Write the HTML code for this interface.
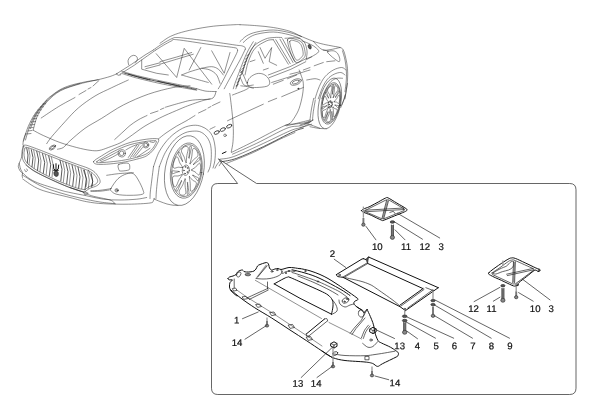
<!DOCTYPE html>
<html lang="en">
<head>
<meta charset="utf-8">
<title>Underbody guards - parts diagram</title>
<style>
html,body{margin:0;padding:0;background:#fff;}
body{width:600px;height:413px;overflow:hidden;}
svg{display:block;will-change:transform;}
.l{fill:none;stroke:#222;stroke-width:.7;stroke-linecap:round;stroke-linejoin:round;}
.c{fill:none;stroke:#222;stroke-width:.5;stroke-linecap:round;stroke-linejoin:round;}
.k{fill:none;stroke:#111;stroke-width:1;stroke-linecap:round;stroke-linejoin:round;}
.d{fill:none;stroke:#222;stroke-width:.75;stroke-linecap:round;stroke-linejoin:round;}
.x{fill:#555;stroke:#222;stroke-width:.6;}
.g{fill:#888;stroke:#222;stroke-width:.6;}
.s{fill:none;stroke:#777;stroke-width:1.9;}
.s2{fill:none;stroke:#999;stroke-width:1.3;}
.b{fill:none;stroke:#4a4a4a;stroke-width:.85;stroke-linejoin:round;}
.t text{font-family:"Liberation Sans",Arial,sans-serif;font-size:9.6px;fill:#111;stroke:#111;stroke-width:.22;text-anchor:middle;text-rendering:geometricPrecision;}
.f{fill:#fff !important;}
</style>
</head>
<body>
<svg width="600" height="413" viewBox="0 0 600 413">
<rect width="600" height="413" fill="#fff"/>
<!-- 10_box.svg -->
<g class="b">
<path d="M218.4 158.8 L237.6 183.5 H217.8 Q211.5 183.5 211.5 189.8 V388.2 Q211.5 394.5 217.8 394.5 H569.7 Q576 394.5 576 388.2 V189.8 Q576 183.5 569.7 183.5 H256.6 Z"/>
</g>
<!-- 19_car_hoodlines.svg -->
<path class="c" d="M23.5 141C23.6 140.8 23.2 141.8 24 139.5C24.8 137.2 26.1 131.4 28 127C29.9 122.6 32.4 117.5 35.5 113C38.6 108.5 44.1 102.7 46.5 100C48.9 97.3 47.8 98.5 50 96.8C52.2 95.1 56.7 91.6 60 89.7C63.3 87.8 66.7 86.6 70 85.5C73.3 84.4 76.7 83.8 80 83C83.3 82.2 87 81.5 90 81C93 80.5 94.7 80.5 98 79.7C101.3 79 106.8 77.5 110 76.5C113.2 75.5 115.8 74.2 117 73.7"/>
<path class="c" d="M33.2 130C34 127.5 35.5 119.6 37.9 114.8C40.3 110 43.8 105.2 47.6 101.2C51.4 97.2 55.2 93.6 60.6 90.7C66 87.8 74 85.6 80.2 83.8C86.4 82 95 80.4 98 79.7"/>
<path class="c" d="M30.5 128.5C31.5 126.1 34 118.7 36.7 114C39.5 109.3 43.1 104.6 47 100.6C50.9 96.6 54.8 93.1 60.3 90.2C65.8 87.3 76.7 84.5 80 83.4"/>
<path class="c" d="M25.5 140C26.1 138 27.5 132.2 29.3 127.8C31.1 123.4 33.2 118.1 36.1 113.5C39 108.9 45 102.5 46.8 100.3"/>
<path class="c" d="M26.5 134L31 133.5"/>
<path class="c" d="M27.5 131L32 130.5"/>
<path class="c" d="M28.5 128L33.3 127.5"/>
<path class="c" d="M29.8 125L34.3 124.5"/>
<path class="c" d="M31 122L35.5 121.5"/>
<path class="c" d="M32.5 119L36.5 118.5"/>
<path class="c" d="M34 116L38 115.7"/>
<path class="c" d="M36 113L39.5 112.8"/>
<path class="c" d="M38 110L41.3 109.8"/>
<path class="c" d="M40.5 107L43.5 106.8"/>
<path class="c" d="M43 104L45.7 103.8"/>
<path class="c" d="M41.2 118C44.1 116.1 53.1 109.9 58.7 106.5C64.3 103.1 72.3 99 75 97.5"/>
<path class="c" d="M79 94.5L86 90.5"/>
<path class="c" d="M88 89L91 87.5"/>
<path class="c" d="M93 86L99 80.5"/>
<path class="c" d="M46.7 143.7C47.5 142.5 48.7 140.4 51.7 136.7C54.8 133 60.6 126.5 65 121.7C69.4 116.9 73.3 112.3 78.3 108C83.3 103.7 89.4 99.4 95 96C100.6 92.6 106.2 90.4 111.7 87.7C117.2 85 125.5 81.3 128.3 80"/>
<path class="c" d="M57.5 149.2C58.5 148.9 61.2 148.9 63.3 147.5C65.4 146.1 66.4 144 70 140.8C73.6 137.6 79.7 132.1 85 128.3C90.3 124.6 95.3 122.2 101.7 118.3C108.1 114.4 115.5 109 123.3 105C131.1 101 140 97.1 148.3 94.2C156.6 91.3 166.4 88.9 173.3 87.5C180.2 86.1 187.2 86.1 190 85.8"/>
<path class="c" d="M33.3 130.3C35 131.2 38.8 133.5 43.3 135.5C47.8 137.5 54.4 140.5 60 142.5C65.6 144.5 71.7 146.2 76.7 147.5C81.7 148.8 86.3 149.8 90 150.3C93.7 150.8 96 151 99 150.5C102 150 104.8 148.8 108.3 147.5C111.8 146.2 116.7 144.6 120 143C123.3 141.4 125.2 139.9 128 138C130.8 136.1 134.2 133.5 137 131.5C139.8 129.5 142 127.8 145 126C148 124.2 151.7 122.2 155 120.5C158.3 118.8 160.8 117.4 165 115.5C169.2 113.6 175.8 110.8 180 109C184.2 107.2 186.7 106.2 190 105C193.3 103.8 197.5 102.3 200 101.5C202.5 100.7 203.3 100.4 205 100C206.7 99.6 208.7 99.3 210 99C211.3 98.7 212.2 98.7 213 98C213.8 97.3 214.5 96.1 215 95C215.5 93.9 215.8 92.1 216 91.5"/>
<path class="c" d="M196.7 88.7C198.1 89.1 202.3 90.5 205 91C207.7 91.5 211.2 91.4 213 91.5C214.8 91.6 215.5 91.5 216 91.5"/>
<path class="c" d="M114.7 139.5C116.2 138.1 121.5 133.3 124 131C126.5 128.7 127.7 127.3 130 125.5C132.3 123.7 135.2 121.7 138 120C140.8 118.3 145.5 116.2 147 115.5"/>
<path class="c" d="M150.5 113.5L158 111"/>
<path class="c" d="M160.5 109.5L164 108"/>
<path class="c" d="M165.5 107.2C167.9 106.5 175.9 104.1 180 103C184.1 101.9 186.7 101.1 190 100.5C193.3 99.9 197.5 99.7 200 99.5C202.5 99.3 203.3 99.6 205 99.5C206.7 99.4 209.2 99.1 210 99"/>
<path class="c" d="M158.3 139C159.6 138 163 135.1 166 133C169 130.9 173 128.3 176.3 126.3C179.6 124.3 182.9 122.8 186 121C189.1 119.2 193.5 116.4 195 115.5"/>
<path class="c" d="M198.5 113L206 109.5"/>
<path class="c" d="M208 108L211 106.5"/>
<path class="c" d="M212.5 105.5L220 102"/>
<!-- 20_car_front.svg -->
<path class="c" d="M25.8 133.3C25.5 134.3 24.1 137.2 23.7 139.2C23.2 141.1 22.9 143.8 23 145C23.1 146.2 24 146.1 24.2 146.3"/>
<ellipse class="c" cx="52.5" cy="147.5" rx="3.7" ry="1.8" transform="rotate(-32 52.5 147.5)"/>
<ellipse class="c" cx="52.5" cy="147.5" rx="2.3" ry="1" transform="rotate(-32 52.5 147.5)"/>
<path class="c" d="M23.3 146.3C23.9 146.2 23.3 144.5 26.7 145.3C30 146.2 37.8 149.2 43.3 151.3C48.9 153.4 54.4 155.9 60 158C65.6 160.1 71.9 162.4 76.7 164.2C81.4 165.9 85.3 166.9 88.3 168.3C91.4 169.7 93.2 170.8 95 172.5C96.8 174.2 98.3 176.7 99.2 178.3C100 180 100.4 181.2 100 182.5C99.6 183.8 98.3 184.9 96.7 185.8C95 186.8 91.9 187.4 90 188.3C88.1 189.3 85.8 191.1 85 191.7"/>
<path class="c" d="M23.3 146.3C23.1 147.2 22.1 149.7 22 151.7C21.9 153.7 22 156.4 22.5 158.3C23 160.3 23.5 161.5 25 163.3C26.5 165.1 28.6 167.1 31.7 169.2C34.7 171.2 38.6 173.4 43.3 175.8C48.1 178.2 54.4 181.3 60 183.7C65.6 186 72.5 188.6 76.7 190C80.8 191.4 83.6 191.7 85 192"/>
<path class="c" d="M25 148.3C25.4 148.2 24.4 146.7 27.5 147.5C30.6 148.3 37.9 151.2 43.3 153.3C48.8 155.4 54.4 157.9 60 160C65.6 162.1 72.1 164.4 76.7 166.2C81.2 167.9 84.7 169.1 87.5 170.3C90.3 171.6 91.8 172.4 93.3 173.8C94.9 175.2 96.3 177.3 97 178.7C97.7 180 97.9 181 97.5 182C97.1 183 96.1 183.9 94.7 184.7C93.3 185.4 90.8 185.8 89.2 186.7C87.6 187.5 85.7 189.2 85 189.7"/>
<path class="c" d="M25 148.3C24.8 149 24.1 150.9 24 152.5C23.9 154.1 24.1 156.3 24.5 158C24.9 159.7 25.3 160.9 26.7 162.5C28 164.1 29.7 165.6 32.5 167.5C35.3 169.4 38.8 171.5 43.3 173.8C47.9 176.2 54.4 179.3 60 181.7C65.6 184 72.5 186.7 76.7 188C80.8 189.3 83.6 189.4 85 189.7"/>
<path class="d" d="M26.7 148L28 155L27.3 163"/>
<path class="c" d="M28.7 148.3L30 155.8L29 164.7"/>
<path class="d" d="M31.3 149.7L33 157.5L32 166.7"/>
<path class="c" d="M33.7 150.3L35.3 158.3L34.2 168.3"/>
<path class="d" d="M36.7 151.3L38.7 160L37.5 170.3"/>
<path class="c" d="M39.2 152.3L41 160.8L40 171.7"/>
<path class="d" d="M42.5 153.7L44.7 162.5L43.3 173.3"/>
<path class="c" d="M45.3 154.7L47.3 163.3L46.2 174.5"/>
<path class="d" d="M48.7 156L50.7 164.7L49.3 175.8"/>
<path class="c" d="M51.3 157L53.3 165.3L52 177"/>
<path class="d" d="M60 160.3L62 169.2L60.8 181"/>
<path class="c" d="M62.7 161.3L64.7 170.3L63.3 182.3"/>
<path class="d" d="M65.8 162.5L68 171.7L66.7 183.7"/>
<path class="c" d="M68.7 163.7L70.7 172.7L69.3 184.7"/>
<path class="d" d="M72 165L74 174.2L72.7 186"/>
<path class="c" d="M75 166.2L77 175.3L75.7 187"/>
<path class="d" d="M78 167.3L80 176.7L78.7 188"/>
<path class="c" d="M81 168.7L83 177.7L81.7 188.7"/>
<path class="d" d="M84.3 170L86.3 179L85 189.3"/>
<path class="c" d="M87.7 171.7L89.3 180L88.3 188.3"/>
<path class="d" d="M91.3 173.7L92.7 181.3L91.7 187"/>
<path class="k" d="M53.3 164.7L53.8 168.7L55 170"/>
<path class="k" d="M58.7 165L58.2 169L57 170"/>
<path class="k" d="M56 163.7L56 173.3"/>
<path class="k" d="M53.7 170.3L58.3 170.3"/>
<path class="x" d="M54.3 171.7C54.9 171.3 57 171.2 57.7 171.7C58.3 172.1 58.4 173.4 58.3 174.2C58.3 174.9 57.9 176 57.3 176.3C56.8 176.6 55.6 176.4 55 176C54.4 175.6 54.1 174.7 54 174C53.9 173.3 53.7 172.1 54.3 171.7Z"/>
<path class="c" d="M23.3 146.7C23.1 148.3 22.4 153.9 21.7 156.7C21 159.4 19.7 161.7 19.2 163.3C18.6 165 18.2 165.4 18.3 166.7C18.5 167.9 19.3 169.7 20 170.8C20.7 171.9 22.1 172.9 22.5 173.3"/>
<path class="c" d="M22.5 173.3C22.4 173.8 22.2 175.1 22.2 175.8C22.2 176.5 22.4 177.2 22.5 177.5"/>
<path class="c" d="M25.8 165C27.4 166.1 30.7 169.2 35 171.7C39.3 174.1 46.1 177.1 51.7 179.7C57.2 182.2 63.1 184.9 68.3 187C73.6 189.1 80.8 191.2 83.3 192"/>
<path class="c" d="M83.3 192L85 195L88.3 193.3L85 191.7"/>
<path class="c" d="M24.7 169.7C24.9 170 25.4 171.6 25.8 171.7C26.3 171.8 27.4 170.8 27.5 170.3C27.6 169.8 26.5 168.9 26.3 168.7"/>
<path class="c" d="M19.2 163.3C19.8 164.8 19.9 169.4 22.5 172.5C25.1 175.6 28.8 178.8 35 181.7C41.2 184.6 54.2 188.2 60 190C65.8 191.8 65.5 191.5 70 192.5C74.5 193.5 81.2 194.7 86.7 195.8C92.2 196.9 97.8 198.5 103.3 199.2C108.8 199.9 114.4 200 120 200C125.6 200 132.2 199.6 136.7 199.2C141.1 198.8 145 197.8 146.7 197.5"/>
<path class="c" d="M22.7 179C25.6 180.8 32.1 186.4 40 189.5C47.9 192.6 62.2 195.5 70 197.5C77.8 199.5 81.2 200.7 86.7 201.7C92.2 202.7 96.4 203.3 103.3 203.7C110.2 204.1 120.5 204.3 128.3 204.2C136.1 204.1 145.8 203.6 150 203C154.2 202.4 152.6 201.6 153.3 200.8C154 200 154 198.7 154.2 198.3"/>
<path class="c" d="M22.5 175C25.4 176.8 33.8 182.5 40 185.5C46.2 188.5 53.3 190.7 60 192.8C66.7 194.9 73.3 196.5 80 198C86.7 199.5 94.2 201.1 100 202C105.8 202.9 112.5 203.4 115 203.7"/>
<path class="c" d="M70 187.5C71.7 188.1 76.4 189.4 80 190.8C83.6 192.2 86.7 194.3 91.7 195.8C96.7 197.3 106.1 198.7 110 200C113.9 201.3 114.2 203.1 115 203.7"/>
<path class="c" d="M154 199C155 199.4 157.8 200.7 160 201.5C162.2 202.3 164.8 203.4 167 204C169.2 204.6 171.2 204.9 173 205.2C174.8 205.4 177.2 205.4 178 205.5"/>
<path class="c" d="M91 191.3C92.5 191.3 97 191.4 100 191.2C103 191 107.7 190.2 109.2 190"/>
<!-- 21_car_headlight.svg -->
<path class="c" d="M93.7 161.3C94.5 159.9 98.4 157.9 101.7 155.8C104.9 153.8 108.6 151.4 113.3 149.2C118.1 146.9 124.4 144.2 130 142.5C135.6 140.8 142.2 139.8 146.7 139.2C151.1 138.5 154.7 138.5 156.7 138.7C158.7 138.8 158.5 139.2 158.7 140C158.8 140.8 158.4 141.7 157.5 143.3C156.6 145 155.1 147.9 153.3 150C151.5 152.1 149.4 154.3 146.7 155.8C143.9 157.4 140.8 158.1 136.7 159.2C132.5 160.3 126.7 161.7 121.7 162.5C116.7 163.3 110.8 163.9 106.7 164.2C102.5 164.4 98.8 164.6 96.7 164.2C94.5 163.7 92.8 162.7 93.7 161.3Z"/>
<path class="c" d="M96.7 161.7C97.4 160.8 100.4 159.2 103.3 157.5C106.2 155.8 109.7 153.3 114.2 151.2C118.6 149 124.6 146.3 130 144.7C135.4 143 142.5 142 146.7 141.3C150.8 140.7 153.4 140.6 155 140.7C156.6 140.7 156.3 141.1 156.3 141.7C156.4 142.2 156.1 142.8 155.3 144.2C154.6 145.5 153.3 148 151.7 149.7C150.1 151.3 148.5 152.9 145.8 154.2C143.2 155.5 139.9 156.4 135.8 157.5C131.8 158.6 126.5 159.7 121.7 160.5C116.8 161.3 110.5 161.8 106.7 162.2C102.8 162.5 100.3 162.8 98.7 162.7C97 162.6 95.9 162.5 96.7 161.7Z"/>
<path class="c" d="M100 160.8C101.4 160.1 105.3 158.2 108.3 156.7C111.4 155.1 116.7 152.2 118.3 151.3"/>
<path class="c" d="M100.8 162C102.4 161.4 106.9 159.8 110 158.3C113.1 156.9 117.6 154.2 119.2 153.3"/>
<ellipse class="c" cx="121.7" cy="153.3" rx="3.7" ry="3.7"/>
<ellipse class="c" cx="121.7" cy="153.3" rx="2.3" ry="2.3"/>
<ellipse class="c" cx="145.8" cy="145" rx="3" ry="3"/>
<ellipse class="c" cx="145.8" cy="145" rx="1.8" ry="1.8"/>
<path class="c" d="M128.3 157.5L136.7 145.3"/>
<path class="c" d="M130.5 157.5L138.8 145.3"/>
<path class="c" d="M133 156.7L141.3 145.8"/>
<path class="c" d="M137.5 156.7L150 148.3"/>
<path class="c" d="M135 156.7L142.5 147.5"/>
<path class="c" d="M125.8 150C126.8 149.4 129.6 147.6 131.7 146.7C133.8 145.7 136.5 144.7 138.3 144.2C140.1 143.6 141.8 143.5 142.5 143.3"/>
<path class="c" d="M150 141.7C150.6 141.8 152.5 142.6 153.3 142.5C154.2 142.4 154.7 141.5 155 141.3"/>
<path class="c" d="M118.7 164.5C120.3 163.5 126.5 162.6 128.3 163.3C130.2 164 129.8 167.5 129.7 168.7C129.5 169.8 129.1 169.9 127.5 170.3C125.9 170.7 121.8 171.2 120.3 171C118.9 170.8 118.9 170.2 118.7 169.2C118.4 168.1 117.1 165.5 118.7 164.5Z"/>
<path class="c" d="M110.8 188.7C111.9 186.6 115.4 181.1 118 178.7C120.6 176.2 124.1 174.7 126.7 173.8C129.2 173 131.4 172.6 133.3 173.7C135.3 174.7 136.7 177.3 138.3 180C139.9 182.7 142.3 187.6 143 190C143.7 192.4 144.7 193.3 142.5 194.2C140.3 195.1 134.3 195.3 130 195.3C125.7 195.4 119.8 195.1 116.7 194.3C113.6 193.6 112.3 191.9 111.3 191C110.4 190.1 109.7 190.7 110.8 188.7Z"/>
<ellipse class="c" cx="116.7" cy="190.3" rx="1.7" ry="1.7"/>
<ellipse class="c" cx="116.7" cy="190.3" rx="0.8" ry="0.8"/>
<path class="c" d="M106.7 175.3C108.6 175.1 113.9 174.1 118.3 173.7C122.8 173.2 130.8 172.8 133.3 172.7"/>
<path class="c" d="M90.8 190.8C92.4 190.8 96.7 190.7 100 190.3C103.3 190 109 188.9 110.8 188.7"/>
<path class="c" d="M83.3 170C83.9 171.7 86.2 177.2 86.7 180C87.1 182.8 86.1 185.6 86 186.7"/>
<path class="c" d="M88.3 170C89 171.7 91.9 177.4 92.5 180C93.1 182.6 91.8 184.9 91.7 185.8"/>
<path class="c" d="M159.3 166.7C160.3 164.4 162.7 157.2 165.2 152.7C167.7 148.2 171.2 143.1 174.5 139.8C177.8 136.5 181.7 134.2 185 132.8C188.3 131.4 191.6 131.2 194.3 131.1C197 131 199.2 131.2 201.3 132.3C203.5 133.4 205.6 135.3 207.2 137.5C208.8 139.7 210 142.4 210.7 145.7C211.4 149 211.4 153.8 211.3 157.3C211.2 160.8 210.7 164.2 210.1 166.7C209.5 169.1 208.3 171.1 208 172"/>
<path class="c" d="M153.5 166.7C154.5 164.2 156.6 156.4 159.3 151.5C162 146.6 165.9 141.4 169.8 137.5C173.7 133.6 178.8 130.2 182.7 128.2C186.6 126.2 190.1 125.6 193.2 125.3C196.3 125 198.8 125.5 201.3 126.4C203.8 127.3 206.4 128.7 208.3 130.5C210.2 132.3 211.8 134.4 213 137.5C214.2 140.6 215 145.3 215.3 149.2C215.6 153.1 215.2 157.7 214.8 160.8C214.4 163.9 213.3 166.8 213 168"/>
<path class="c" d="M153.5 166.7C153.2 168.9 152.3 175.8 151.8 180C151.3 184.2 150.6 188.9 150.3 192C150 195.1 150.1 197.4 150 198.5"/>
<path class="c" d="M159.3 166.7C159 168.9 158 175.8 157.5 180C157 184.2 156.6 188.9 156.3 192C156.1 195.1 156.1 197.4 156 198.5"/>
<!-- 22_car_hood.svg -->
<path class="c" d="M116.7 73.7L131.7 64.2L145 55L153.3 50"/>
<path class="c" d="M120 74.2L134.2 65.3L147.5 55.8L155.8 50"/>
<path class="c" d="M116.7 73.7C116.9 73.9 117.3 75.2 118 75.3C118.7 75.5 120.4 74.8 120.8 74.7"/>
<path class="c" d="M128.7 64.7C128.6 64 127.8 62.1 128 60.8C128.2 59.6 129.1 57.9 130 57C130.9 56.1 132.6 55.4 133.7 55.3C134.8 55.3 136.1 55.9 136.7 56.7C137.3 57.4 137.6 58.6 137.3 59.7C137.1 60.7 135.7 62.4 135.3 63"/>
<path class="c" d="M141.7 60L141.7 69.2L156.7 73.3L168.3 75"/>
<path class="c" d="M145 66.7L160 62.8"/>
<path class="c" d="M145.8 68.7L160 65"/>
<path class="c" d="M121.7 71.2C124.3 72 131.1 74.1 137.5 75.7C143.9 77.3 152.5 79.2 160 80.8C167.5 82.4 176.4 84.1 182.5 85.4C188.6 86.7 194.3 88.2 196.7 88.7"/>
<path class="d" d="M124 73C126.2 73.6 131.5 75.2 137.5 76.7C143.5 78.2 152.5 80.4 160 82C167.5 83.6 176.5 85.2 182.5 86.5C188.5 87.8 193.8 89 196 89.5"/>
<path class="c" d="M122.5 73.7C125 74.5 131.2 76.6 137.5 78.2C143.8 79.8 152.5 81.9 160 83.5C167.5 85.1 176.4 86.6 182.5 87.7C188.6 88.8 194.3 89.8 196.7 90.2"/>
<path class="d" d="M128 74C130 74.6 136.3 76.5 140 77.5C143.7 78.5 148.3 79.6 150 80"/>
<path class="d" d="M158 81.2C160 81.7 166.3 83.1 170 84C173.7 84.9 178.3 86 180 86.4"/>
<!-- 23_car_roof.svg -->
<path class="c" d="M160 43.3C161.4 42.4 165.3 39.2 168.3 37.5C171.4 35.8 174.2 34.7 178.3 33.3C182.5 32 187.5 30.7 193.3 29.5C199.2 28.3 206.4 27 213.3 26.2C220.3 25.4 230.6 24.9 235 24.7C239.4 24.4 239.2 24.7 240 24.7"/>
<path class="c" d="M153.3 50C154.4 49.2 157.6 46.9 160 45.3C162.4 43.8 165.3 42.1 167.5 40.8C169.7 39.6 171.8 38.6 173.3 38C174.9 37.4 174.7 37.5 176.7 37.5C178.6 37.5 179.4 37.5 185 38.2C190.6 38.8 201.7 40.2 210 41.3C218.3 42.5 229.7 44.2 235 45C240.3 45.8 240 45.4 241.7 45.8C243.3 46.2 244.4 46.8 245 47.3C245.6 47.9 245.3 48.9 245.3 49.2"/>
<path class="c" d="M155.8 50C157.1 49.2 160.7 46.9 163.3 45.3C166 43.8 169.4 41.8 171.7 40.8C173.9 39.9 170.3 39.1 176.7 39.7C183.1 40.3 200.6 43.2 210 44.5C219.4 45.8 228.8 46.8 233.3 47.5C237.8 48.2 236.3 48.2 237 48.7C237.7 49.1 237.4 50.1 237.5 50.3"/>
<path class="c" d="M245.3 49.2C244.4 51 242.3 55.7 240 60C237.7 64.3 234.3 70.2 231.7 75C229 79.8 225.4 86.5 224.2 88.8"/>
<path class="c" d="M237.5 50.3C237.4 50.8 237.9 50.6 236.7 53.3C235.4 56.1 232.2 62.2 230 66.7C227.8 71.1 225.3 76.3 223.3 80C221.4 83.7 219.2 87.4 218.3 88.8"/>
<path class="c" d="M253.3 41.7C252.2 43.6 248.9 48.6 246.7 53.3C244.4 58.1 241.9 65 240 70C238.1 75 236.1 80.2 235 83.3C233.9 86.5 233.6 87.9 233.3 88.8"/>
<path class="c" d="M255.8 42.5C254.7 44.4 251.4 49.4 249.2 54.2C246.9 58.9 244.4 65.8 242.5 70.8C240.6 75.8 238.6 81.2 237.5 84.2C236.4 87.2 236.1 88.1 235.8 88.8"/>
<path class="c" d="M246.7 55.8L249.2 54.2"/>
<path class="c" d="M245.3 59.2L247.8 57.5"/>
<path class="c" d="M244.2 62.5L246.7 60.8"/>
<path class="c" d="M243 65.8L245.5 64.2"/>
<path class="c" d="M241.7 69.2L244.2 67.5"/>
<path class="c" d="M240.5 72.5L243 70.8"/>
<path class="c" d="M239.3 75.8L241.8 74.2"/>
<path class="c" d="M238.2 79.2L240.7 77.5"/>
<path class="c" d="M237 82.5L239.5 80.8"/>
<path class="c" d="M236 85.8L238.5 84.2"/>
<path class="c" d="M156.2 53.7L176.7 77.5L184.2 48.3L211.7 84.2"/>
<path class="c" d="M200.8 47.5L189.2 70"/>
<path class="c" d="M211.7 50.8L224.2 73.3L230 52.5"/>
<path class="c" d="M181.7 75C183.1 74.4 186.7 72.8 190 71.7C193.3 70.6 198.1 69.2 201.7 68.3C205.3 67.5 208.9 66.5 211.7 66.7C214.4 66.8 216.4 67.8 218.3 69.2C220.3 70.6 222.5 74 223.3 75"/>
<path class="c" d="M181.7 75C183.6 75.6 188.9 77.1 193.3 78.3C197.8 79.6 205.8 81.8 208.3 82.5"/>
<path class="c" d="M201.7 68.3C203.1 68.6 207.5 68.9 210 70C212.5 71.1 215 72.8 216.7 75C218.3 77.2 219.4 81.9 220 83.3"/>
<path class="c" d="M160 64.2L176.7 59.2L193.3 54.2"/>
<path class="c" d="M160 61.7L176.7 57L191.7 52.5"/>
<path class="c" d="M236.7 86.7C237.2 85.3 238.9 78.8 240 78.3C241.1 77.9 242.2 82.9 243.3 84.2C244.4 85.4 245 85.7 246.7 85.8C248.3 86 252.2 85.1 253.3 85"/>
<!-- 24_car_side.svg -->
<path class="c" d="M243.3 42.5C244.3 41.7 246.8 38.9 249.2 37.5C251.5 36.1 253.5 34.9 257.5 34C261.5 33.1 268.1 31.9 273.3 32C278.6 32.1 284.7 33.6 289.2 34.7C293.6 35.7 298.2 37.7 300 38.3"/>
<path class="c" d="M245 75C245.6 72.8 246.7 66.1 248.3 61.7C250 57.2 251.9 51.8 255 48.3C258.1 44.9 263.6 42.3 266.7 40.8C269.7 39.4 272.2 39.9 273.3 39.7"/>
<path class="c" d="M273.3 39.7L288.3 64.2"/>
<path class="c" d="M242.5 73.3C243.1 71.1 244.5 64.4 246.3 60C248.1 55.6 250.2 50.1 253.3 46.7C256.4 43.2 261.5 40.7 265 39.2C268.5 37.6 271.4 37.8 274.2 37.5C276.9 37.2 280.4 37.5 281.7 37.5"/>
<path class="c" d="M275.8 39.7L290.3 63.7"/>
<path class="c" d="M280 39.2L293 62.5"/>
<path class="c" d="M282.5 38.7L295 61.7"/>
<path class="c" d="M287.5 40C287.8 36.3 294.2 39.1 296.7 39.7C299.2 40.2 301.1 41.3 302.5 43.3C303.9 45.3 304.7 49.3 305 51.7C305.3 54 305.8 55.8 304.2 57.5C302.5 59.2 297.8 64.6 295 61.7C292.2 58.8 287.2 43.7 287.5 40Z"/>
<path class="c" d="M289.7 41.7C289.8 38.6 294.5 40.9 296.3 41.3C298.2 41.8 299.7 42.8 300.8 44.5C301.9 46.2 302.8 49.7 303 51.7C303.2 53.6 303.5 55 302.3 56.3C301.1 57.6 297.9 61.9 295.8 59.5C293.7 57.1 289.6 44.7 289.7 41.7Z"/>
<path class="c" d="M285 38.3C287.1 38.3 294.3 37.4 297.5 38C300.7 38.6 302.6 39.9 304.2 42C305.8 44.1 306.6 48.1 307 50.8C307.4 53.6 306.4 57.4 306.3 58.7"/>
<path class="c" d="M268.3 75L290 66.7L305 59.2L311.7 56.7"/>
<path class="c" d="M269.2 77.7L290.8 69.3L305.8 61.7"/>
<path class="c" d="M240 70C240.6 70.8 242.2 72.7 243.3 75C244.5 77.3 246.4 82.2 247 83.7"/>
<path class="c" d="M273.3 84.2L283.3 80.3"/>
<path class="c" d="M287.5 78.7L296.7 75"/>
<path class="c" d="M260 47.5L265 58.3L271.7 47.5L269.2 61.7L276.7 65.3"/>
<path class="c" d="M258.3 51.7L263.3 63.3"/>
<path class="c" d="M250 61.7L255 60"/>
<path class="c" d="M263.3 70L268.3 68.3"/>
<!-- 25_car_door.svg -->
<path class="c" d="M247.5 82.5C247.6 81 248.5 79 250 77.5C251.5 76 254.4 74.2 256.7 73.7C258.9 73.1 261.4 73.4 263.3 74.2C265.3 74.9 267.3 76.8 268.3 78.3C269.4 79.9 269.9 82 269.7 83.3C269.4 84.7 268.8 85.6 266.7 86.3C264.5 87 259.6 87.4 256.7 87.5C253.8 87.6 250.7 87.5 249.2 86.7C247.6 85.8 247.4 84 247.5 82.5Z"/>
<path class="c" d="M240.8 85.8C241.9 86 245.4 86.2 247.5 86.7C249.6 87.1 252.4 88.1 253.3 88.3"/>
<path class="c" d="M232.5 95C234.3 94.3 240.7 91.9 243.3 90.8C246 89.7 247.5 88.8 248.3 88.3"/>
<path class="c" d="M227.5 120.8L243.3 113.3L263.3 104.2"/>
<path class="c" d="M268.3 101.7L276.7 98.3"/>
<path class="c" d="M281.7 96.7L303.3 87.5"/>
<path class="c" d="M271.7 82.5C274.7 81.5 284.7 78.4 290 76.7C295.3 74.9 300 73.1 303.3 72C306.7 70.9 308.9 70.3 310 70"/>
<ellipse class="c" cx="295.8" cy="82" rx="5.8" ry="2.8" transform="rotate(-20 295.8 82)"/>
<ellipse class="c" cx="295.8" cy="82" rx="3.7" ry="1.5" transform="rotate(-20 295.8 82)"/>
<ellipse class="d" cx="298.3" cy="88.7" rx="0.5" ry="0.5"/>
<ellipse class="d" cx="216.7" cy="132.5" rx="2.8" ry="1.5" transform="rotate(-25 216.7 132.5)"/>
<ellipse class="d" cx="222.8" cy="129.5" rx="2.8" ry="1.5" transform="rotate(-25 222.8 129.5)"/>
<ellipse class="d" cx="229.2" cy="126.2" rx="2.8" ry="1.5" transform="rotate(-25 229.2 126.2)"/>
<ellipse class="c" cx="225" cy="135.3" rx="1.3" ry="1.3"/>
<path class="c" d="M210 129.2C210.6 128.9 212.5 127.9 213.3 127.5C214.2 127.1 214.7 126.8 215 126.7"/>
<path class="c" d="M300 125C301.7 124.4 307.8 122.5 310 121.7C312.2 120.8 312.8 120.3 313.3 120"/>
<path class="c" d="M300 127.5C301.1 127.2 304.7 126.4 306.7 125.8C308.6 125.3 310.8 124.4 311.7 124.2"/>
<path class="c" d="M310 126.7C311.4 126.9 315.6 128 318.3 128.3C321.1 128.7 325.3 128.6 326.7 128.7"/>
<!-- 26_car_sill.svg -->
<path class="c" d="M229.7 94.2C229.7 94.3 229.6 92.1 230 95C230.4 97.9 231.4 106.1 232 111.7C232.6 117.2 233.2 123.3 233.3 128.3C233.5 133.3 233.3 137.8 233 141.7C232.7 145.6 231.6 150 231.3 151.7"/>
<path class="c" d="M231.3 152.5C235 150.7 244.5 146.1 253.3 141.7C262.1 137.2 277.5 128.8 284.2 125.8C290.8 122.9 290.1 124.6 293.3 124.2C296.5 123.7 300.4 123.6 303.3 123C306.2 122.4 309.6 121.2 310.8 120.8"/>
<path class="c" d="M232.5 154.2C236.5 152.4 247.6 147.6 256.7 143.3C265.7 139 279.4 131.2 286.7 128.3C293.9 125.4 296.1 126.8 300 125.8C303.9 124.9 308.3 123.1 310 122.5"/>
<path class="c" d="M220 159.2C222.2 158.8 226.7 159 233.3 156.7C240 154.3 250.6 149.3 260 145C269.4 140.7 283.1 133.8 290 130.8C296.9 127.9 298.6 128.6 301.7 127.5C304.7 126.4 307.2 124.7 308.3 124.2"/>
<path class="d" d="M221.7 161.7C224.2 161.1 229.7 160.8 236.7 158.3C243.6 155.8 253.9 151.1 263.3 146.7C272.8 142.2 286.7 134.7 293.3 131.7C300 128.6 301.7 128.9 303.3 128.3"/>
<path class="c" d="M226.7 163.3C231.1 161.5 244.7 156.4 253.3 152.5C261.9 148.6 271.4 143.3 278.3 140C285.3 136.7 292.2 133.8 295 132.5"/>
<path class="c" d="M308.3 124.2C309.2 124.4 311.4 125.1 313.3 125.8C315.3 126.5 318.9 127.9 320 128.3"/>
<path class="k" d="M222.3 153.5L226 151.8"/>
<path class="c" d="M220 160.8C219.4 161.5 217.5 163.8 216.7 165C215.8 166.2 215.3 167.8 215 168.3"/>
<path class="c" d="M221.7 161.7 L219.2 165.8"/>
<!-- 27_wheels.svg -->
<!-- wheels -->
<ellipse class="c f" cx="184.4" cy="170.6" rx="19.3" ry="35.3" transform="rotate(10.4 184.4 170.6)"/>
<ellipse class="c" cx="186.3" cy="170.6" rx="15.7" ry="27.8" transform="rotate(8 186.3 170.6)"/>
<ellipse class="c" cx="186.5" cy="170.6" rx="14.6" ry="26.1" transform="rotate(8 186.5 170.6)"/>
<ellipse class="c" cx="185.8" cy="170.2" rx="3.5" ry="5.2" transform="rotate(8 185.8 170.2)"/>
<circle class="c" cx="187.3" cy="172.1" r="0.5"/>
<circle class="c" cx="184.9" cy="173.6" r="0.5"/>
<circle class="c" cx="183.8" cy="170.4" r="0.5"/>
<circle class="c" cx="185.4" cy="166.9" r="0.5"/>
<circle class="c" cx="187.6" cy="168" r="0.5"/>
<path class="c" d="M189.3 176.7C189.7 176.2 191.4 179.2 192.5 180.1C193.6 181 195.5 181.4 196.1 182.3C196.7 183.2 196.3 184.2 196 185.3C195.7 186.4 194.9 187.9 194.2 188.9C193.5 189.9 192.4 190.9 191.8 191.1C191.1 191.4 190.7 191.6 190.4 190.3C190.1 188.9 190.4 185.5 190.2 183.2C190.1 181 189 177.2 189.3 176.7Z"/>
<path class="c" d="M192.8 175.2C192.9 174.9 195.4 176.5 196.3 176.9C197.3 177.4 198.3 177.6 198.7 178.1C199 178.5 198.7 179.2 198.5 179.7C198.4 180.2 198.2 181.1 197.8 180.9C197.3 180.7 196.7 179.5 195.8 178.6C195 177.6 192.7 175.5 192.8 175.2Z"/>
<path class="c" d="M185.2 178.8C185.6 178.9 185 183.5 185.1 185.8C185.2 188.1 186 191 185.9 192.5C185.7 194.1 185 194.5 184.3 194.9C183.7 195.3 182.6 195.4 181.8 195.2C181 194.9 180 194.3 179.6 193.6C179.2 192.8 178.9 192.1 179.4 190.7C179.9 189.3 181.6 187.1 182.6 185.1C183.6 183.1 184.8 178.7 185.2 178.8Z"/>
<path class="c" d="M187.5 182.5C187.7 182.4 188.2 187.1 188.4 188.8C188.7 190.6 189 192.2 189 193.1C188.9 194 188.4 194 188.1 194.1C187.8 194.3 187.3 194.8 187.2 194C187.1 193.2 187.4 191.2 187.4 189.3C187.5 187.4 187.4 182.6 187.5 182.5Z"/>
<path class="c" d="M182.2 174.7C182.3 175.4 179.9 178.1 178.9 180C177.9 182 176.9 185.2 176.1 186.3C175.3 187.3 174.7 186.8 174.2 186.2C173.6 185.7 173.1 184.2 172.8 182.9C172.5 181.7 172.3 179.8 172.4 178.7C172.6 177.5 172.8 176.5 173.7 176C174.7 175.6 176.6 176.3 178 176C179.4 175.8 182 174 182.2 174.7Z"/>
<path class="c" d="M181.6 180.8C181.7 181 179.8 185.3 179.1 187C178.4 188.7 177.7 190.6 177.3 191.2C176.8 191.8 176.6 191.1 176.4 190.8C176.2 190.5 175.7 190.3 176 189.5C176.3 188.7 177.4 187.4 178.4 186C179.3 184.6 181.5 180.7 181.6 180.8Z"/>
<path class="c" d="M182.6 167.5C182.4 168.2 179.9 167.1 178.5 167.2C177.1 167.3 175.1 168.4 174.2 168.2C173.3 167.9 173.2 166.9 173.1 165.8C173.1 164.6 173.5 162.7 174 161.4C174.4 160.1 175.1 158.4 175.7 157.7C176.4 157 177 156.4 177.7 157.3C178.4 158.1 179 161.2 179.8 162.9C180.7 164.6 182.8 166.8 182.6 167.5Z"/>
<path class="c" d="M179.4 171.5C179.4 171.8 176.5 172.4 175.3 172.8C174.1 173.2 172.9 173.9 172.4 173.8C171.8 173.7 172.1 172.8 172.1 172.3C172.1 171.8 172 171 172.5 170.8C173.1 170.6 174.2 171 175.4 171.1C176.5 171.2 179.4 171.2 179.4 171.5Z"/>
<path class="c" d="M186.1 162.7C185.6 162.9 184.9 158.7 184.1 156.9C183.4 155.1 181.9 153.2 181.5 151.9C181.2 150.6 181.5 149.8 182 149C182.5 148.1 183.6 147.2 184.4 146.8C185.3 146.4 186.4 146.2 187 146.5C187.6 146.7 188.3 147 188.3 148.5C188.3 150 187.2 153.2 186.8 155.6C186.4 157.9 186.5 162.4 186.1 162.7Z"/>
<path class="c" d="M182.7 161.4C182.5 161.6 180.7 158.2 180 157C179.2 155.7 178.2 154.7 178 154C177.7 153.2 178.3 152.8 178.5 152.5C178.8 152.2 179 151.4 179.4 151.9C179.8 152.5 180.3 154.2 180.8 155.8C181.3 157.4 182.8 161.3 182.7 161.4Z"/>
<path class="c" d="M190 163.8C189.7 163.3 191.3 159.3 191.7 156.9C192.1 154.6 192.2 151.1 192.6 149.7C193 148.3 193.5 148.4 194.1 148.5C194.7 148.5 195.7 149.3 196.3 150.1C196.9 151 197.5 152.3 197.8 153.4C198 154.4 198.2 155.4 197.5 156.4C196.8 157.4 194.9 158.3 193.6 159.6C192.4 160.8 190.4 164.2 190 163.8Z"/>
<path class="c" d="M188.9 158.3C188.7 158.3 189.4 153.3 189.5 151.4C189.7 149.4 189.6 147.5 189.8 146.7C190 145.8 190.5 146.2 190.8 146.3C191.1 146.4 191.5 146.3 191.5 147.1C191.5 148 190.9 149.8 190.5 151.7C190.1 153.5 189 158.4 188.9 158.3Z"/>
<path class="c" d="M191.5 170C191.5 169.3 194.1 168.4 195.4 167.3C196.7 166.1 198.3 163.7 199.1 163.3C199.9 162.8 200.1 163.7 200.3 164.6C200.6 165.5 200.7 167.4 200.7 168.9C200.6 170.3 200.2 172.2 199.9 173.3C199.5 174.3 199.3 175.2 198.5 175C197.7 174.7 196.3 172.7 195.1 171.9C194 171 191.4 170.8 191.5 170Z"/>
<path class="c" d="M193.4 164.4C193.3 164.2 195.9 161.5 196.8 160.3C197.8 159.1 198.6 157.7 199 157.4C199.5 157.1 199.6 158 199.7 158.4C199.8 158.9 200.1 159.5 199.7 160C199.2 160.6 198.2 161 197.2 161.8C196.1 162.5 193.4 164.7 193.4 164.4Z"/>
<ellipse class="c f" cx="329.8" cy="103.4" rx="10.8" ry="25.8" transform="rotate(12 329.8 103.4)"/>
<ellipse class="c" cx="330.8" cy="103.4" rx="9.3" ry="21" transform="rotate(11 330.8 103.4)"/>
<ellipse class="c" cx="331" cy="103.4" rx="8.6" ry="19.7" transform="rotate(11 331 103.4)"/>
<ellipse class="c" cx="330.2" cy="104.4" rx="2.1" ry="3.9" transform="rotate(11 330.2 104.4)"/>
<circle class="c" cx="331" cy="105.9" r="0.5"/>
<circle class="c" cx="329.5" cy="106.9" r="0.5"/>
<circle class="c" cx="329" cy="104.5" r="0.5"/>
<circle class="c" cx="330.2" cy="101.9" r="0.5"/>
<circle class="c" cx="331.4" cy="102.8" r="0.5"/>
<path class="c" d="M332.9 107.1C333.1 106.6 334.2 108.3 334.9 108.7C335.6 109 336.8 108.9 337.1 109.3C337.5 109.8 337.2 110.5 337 111.4C336.8 112.3 336.4 113.6 335.9 114.4C335.5 115.3 334.8 116.3 334.4 116.6C334.1 117 333.8 117.3 333.7 116.4C333.5 115.5 333.6 113 333.5 111.5C333.4 109.9 332.7 107.5 332.9 107.1Z"/>
<path class="c" d="M335 105.1C335.1 104.9 336.6 105.4 337.2 105.4C337.8 105.5 338.4 105.4 338.6 105.6C338.8 105.8 338.6 106.4 338.5 106.8C338.4 107.2 338.3 107.8 338.1 107.8C337.8 107.8 337.4 107.2 336.9 106.7C336.4 106.3 335 105.3 335 105.1Z"/>
<path class="c" d="M330.3 109.6C330.6 109.6 330.3 113 330.4 114.6C330.4 116.2 330.9 118.1 330.8 119.2C330.8 120.3 330.3 120.7 329.8 121.2C329.4 121.6 328.7 122 328.2 122C327.7 122 327.1 121.8 326.8 121.4C326.6 121 326.5 120.6 326.8 119.5C327.1 118.4 328.2 116.4 328.8 114.7C329.4 113.1 330.1 109.6 330.3 109.6Z"/>
<path class="c" d="M331.8 111.6C331.9 111.5 332.3 114.7 332.4 115.9C332.6 117.1 332.7 118.1 332.7 118.7C332.7 119.4 332.4 119.5 332.2 119.7C332 119.8 331.7 120.3 331.6 119.8C331.6 119.3 331.8 117.9 331.8 116.5C331.8 115.1 331.7 111.7 331.8 111.6Z"/>
<path class="c" d="M328.4 107.5C328.5 107.9 327 110.4 326.4 112.1C325.8 113.7 325.2 116.2 324.7 117.2C324.2 118.1 323.7 117.8 323.4 117.6C323 117.3 322.7 116.4 322.5 115.6C322.3 114.7 322.1 113.5 322.2 112.6C322.3 111.8 322.5 111 323.1 110.5C323.7 110 324.9 109.9 325.8 109.4C326.7 108.9 328.3 107 328.4 107.5Z"/>
<path class="c" d="M328.1 111.9C328.2 112 327 115.5 326.5 116.9C326.1 118.3 325.7 119.8 325.4 120.3C325.1 120.9 325 120.4 324.8 120.3C324.7 120.1 324.4 120.1 324.6 119.4C324.8 118.8 325.5 117.7 326.1 116.4C326.7 115.2 328 111.9 328.1 111.9Z"/>
<path class="c" d="M328.6 102.3C328.5 102.8 326.9 102.6 326 103C325.1 103.4 323.8 104.7 323.3 104.8C322.7 104.8 322.6 104.1 322.5 103.3C322.5 102.5 322.7 101 323 100C323.2 98.9 323.7 97.5 324.1 96.9C324.4 96.3 324.9 95.7 325.3 96.1C325.8 96.6 326.2 98.6 326.8 99.6C327.3 100.6 328.7 101.7 328.6 102.3Z"/>
<path class="c" d="M326.6 105.8C326.6 106 324.8 107.2 324 107.8C323.3 108.3 322.5 109.1 322.1 109.2C321.8 109.2 321.9 108.5 321.9 108.2C322 107.8 321.8 107.3 322.2 107C322.5 106.7 323.3 106.7 324.1 106.5C324.8 106.3 326.6 105.6 326.6 105.8Z"/>
<path class="c" d="M330.7 97.9C330.5 98.2 329.9 95.4 329.4 94.3C328.9 93.2 327.9 92.2 327.7 91.4C327.4 90.5 327.6 89.8 327.9 89.1C328.2 88.4 328.9 87.5 329.4 86.9C329.9 86.4 330.6 86 331 86C331.4 86.1 331.9 86.1 331.9 87.2C331.9 88.3 331.3 90.9 331.1 92.7C330.9 94.4 331 97.6 330.7 97.9Z"/>
<path class="c" d="M328.5 97.9C328.5 98.1 327.3 96 326.8 95.3C326.2 94.6 325.6 94.1 325.4 93.7C325.2 93.2 325.6 92.8 325.7 92.5C325.9 92.2 326 91.5 326.3 91.8C326.6 92.1 326.9 93.3 327.3 94.3C327.6 95.3 328.6 97.7 328.5 97.9Z"/>
<path class="c" d="M333.2 97.7C333 97.5 333.9 94.2 334.1 92.4C334.4 90.6 334.4 88.1 334.6 87C334.8 85.9 335.1 85.8 335.4 85.7C335.8 85.6 336.5 85.9 336.8 86.3C337.2 86.8 337.6 87.6 337.8 88.3C337.9 89 338.1 89.6 337.7 90.5C337.3 91.4 336.1 92.6 335.4 93.8C334.6 95 333.4 97.9 333.2 97.7Z"/>
<path class="c" d="M332.4 94.1C332.3 94.1 332.6 90.4 332.7 89C332.7 87.5 332.6 86.2 332.7 85.5C332.9 84.8 333.2 85 333.3 85C333.5 85 333.8 84.8 333.8 85.4C333.8 86.1 333.5 87.5 333.3 88.9C333.1 90.4 332.5 94.1 332.4 94.1Z"/>
<path class="c" d="M334.2 101.8C334.2 101.2 335.8 99.9 336.6 98.8C337.3 97.7 338.3 95.5 338.8 95C339.3 94.5 339.4 95 339.5 95.6C339.7 96.2 339.8 97.5 339.8 98.6C339.7 99.6 339.5 101.1 339.3 101.9C339.1 102.7 339 103.5 338.5 103.5C338.1 103.5 337.2 102.4 336.5 102.1C335.7 101.9 334.2 102.3 334.2 101.8Z"/>
<path class="c" d="M335.3 97.3C335.2 97.2 336.8 94.5 337.3 93.5C337.9 92.4 338.3 91.2 338.6 90.8C338.9 90.5 339 91.1 339 91.4C339.1 91.7 339.3 92 339 92.5C338.8 93 338.2 93.6 337.6 94.4C337 95.2 335.3 97.5 335.3 97.3Z"/>
<!-- 28_car_rear.svg -->
<path class="c" d="M240 24.7C242.8 24.8 251.1 25.2 256.7 25.7C262.2 26.1 267.8 26.6 273.3 27.5C278.9 28.4 285.6 29.9 290 31.3C294.4 32.7 298.3 35.1 300 35.8"/>
<path class="c" d="M240 41.7C241.1 40.7 243.9 37.4 246.7 35.8C249.4 34.2 252.2 33 256.7 32C261.1 31 267.8 29.9 273.3 30C278.9 30.1 285.3 31.6 290 32.7C294.7 33.8 299.7 36 301.7 36.7"/>
<path class="c" d="M300 35.8C302.2 36.8 309.4 39.9 313.3 41.3C317.2 42.7 320 43.4 323.3 44.2C326.7 45 330.6 45.6 333.3 46.2C336.1 46.7 338.3 46.9 340 47.5C341.7 48.1 342.4 48.2 343.3 50C344.3 51.8 345.1 55.3 345.8 58.3C346.5 61.4 347.2 64.7 347.5 68.3C347.8 71.9 347.8 75.8 347.5 80C347.2 84.2 346.2 90.2 345.8 93.3C345.4 96.5 345.1 97.9 345 98.8"/>
<path class="c" d="M342.5 50.8C342.9 52.4 344.4 56.8 345 60C345.6 63.2 346.1 66.7 346.3 70C346.6 73.3 346.6 76.4 346.3 80C346.1 83.6 345.2 89.7 345 91.7"/>
<path class="c" d="M301.7 40.8C302.8 41.2 306.1 42.3 308.3 43.3C310.6 44.4 313.3 45.6 315 47C316.7 48.4 319.2 50.1 318.7 51.7C318.1 53.3 313.8 55.3 311.7 56.7C309.5 58.1 306.8 59.4 305.8 60"/>
<path class="c" d="M313.3 41.3C314.2 42.2 316.7 45.2 318.3 46.7C320 48.1 321.4 49.5 323.3 50C325.3 50.5 327.2 50.1 330 49.7C332.8 49.3 338.3 47.9 340 47.5"/>
<path class="x" d="M308.3 45C308.6 44.6 309.5 44.4 310 44.7C310.5 44.9 311 46 311.2 46.7C311.3 47.3 311.3 48.3 311 48.7C310.7 49 309.9 49.1 309.5 48.8C309.1 48.6 308.5 47.6 308.3 47C308.1 46.4 308.1 45.4 308.3 45Z"/>
<path class="c" d="M327.5 51.7C328.1 51 331.7 50.6 333.3 50.8C335 51.1 336.4 52.1 337.5 53.3C338.6 54.6 339.4 56.9 339.7 58.3C339.9 59.7 339.9 61.5 339.2 61.7C338.4 61.8 336.5 60.3 335 59.2C333.5 58.1 331.2 56.2 330 55C328.8 53.8 326.9 52.4 327.5 51.7Z"/>
<path class="c" d="M323.3 50L328.3 51"/>
<path class="c" d="M314.2 65.8L323.3 62.5"/>
<path class="c" d="M326.7 61.7L335 60.8"/>
<path class="c" d="M290 74.2L300 71.7"/>
<path class="c" d="M303.3 70L310 67.5"/>
<path class="c" d="M315 98.8C315.7 96.8 317.5 90.4 319.2 86.7C320.8 83 322.6 79.4 325 76.7C327.4 73.9 330.6 71.5 333.3 70C336.1 68.5 339.6 67.5 341.7 67.5C343.8 67.5 345.1 69.6 345.8 70"/>
<path class="c" d="M318.3 98.8C319 96.9 321 90.8 322.5 87.5C324 84.2 325.6 81.4 327.5 79.2C329.4 76.9 331.9 75.3 334.2 74.2C336.4 73.1 339 72.4 340.8 72.5C342.6 72.6 344.3 74.6 345 75"/>
<path class="c" d="M321.7 98.8C322.4 97.2 324.3 92 325.8 89.2C327.4 86.3 329 83.5 330.8 81.7C332.6 79.9 334.7 78.9 336.7 78.3C338.6 77.8 341.5 78.3 342.5 78.3"/>
<path class="c" d="M306.7 80C308.1 79.8 312.8 78.7 315 78.7C317.2 78.7 319.2 79.8 320 80"/>
<path class="c" d="M312.5 120C312.6 118.6 312.9 115 313.3 111.7C313.8 108.3 315 101.9 315.3 100"/>
<path class="c" d="M310 120C310.2 118.3 310.7 113.6 311.3 110C311.9 106.4 313.3 100.3 313.7 98.3"/>
<path class="c" d="M347.5 83.3C347.1 85.6 346 93.1 345 96.7C344 100.3 342.2 103.6 341.7 105"/>
<path class="c" d="M345 95C344.8 95.8 344.4 97.9 343.7 100C343 102.1 341.3 106.2 340.8 107.5"/>
<path class="c" d="M286.7 125.8C288.3 125.4 293.9 124 296.7 123.3C299.4 122.6 301.1 122.2 303.3 121.7C305.6 121.1 308.9 120.3 310 120"/>
<path class="c" d="M312.5 120C312.1 120.3 311.2 121.4 310 122C308.8 122.6 305.8 123.4 305 123.7"/>
<path class="c" d="M299.2 70C299.5 70.8 300.3 72.8 301 75C301.7 77.2 303.1 80 303.3 83.3C303.6 86.6 303.2 90.8 302.5 95C301.8 99.2 300.4 104.7 299.2 108.3C297.9 111.9 296.5 114.2 295 116.7C293.5 119.2 291.7 121.8 290 123.3C288.3 124.8 285.8 125.1 285 125.5"/>
<!-- 30_tray.svg -->
<path class="k" d="M228 278.5C228.2 278.2 228.7 277.4 229.5 277C230.3 276.6 231.9 276.4 233 276C234.1 275.6 235.2 275.2 236 274.5C236.8 273.8 236.8 272.7 237.5 272C238.2 271.3 239.2 270.8 240 270.5C240.8 270.2 241.8 269.8 242.5 270C243.2 270.2 243.3 271.2 244 271.5C244.7 271.8 245.3 271.9 246.5 272C247.7 272.1 249.8 272 251 271.8C252.2 271.6 253.2 271.5 254 271C254.8 270.5 255.4 269.8 256 269C256.6 268.2 256.8 266.8 257.5 266C258.2 265.2 258.8 265 260 264.5C261.2 264 263.8 263.1 265 262.8C266.2 262.5 266.9 262.4 267.5 262.8C268.1 263.2 268.5 264.1 268.8 265C269.1 265.9 269.1 267.2 269.5 268C269.9 268.8 270.6 269.8 271.5 270C272.4 270.2 273.9 269.2 275 269C276.1 268.8 277 268.4 278 268.5C279 268.6 279.8 269.5 281 269.5C282.2 269.5 283.7 268.8 285 268.5C286.3 268.2 287.5 267.6 289 267.5C290.5 267.4 292.2 267.6 294 267.8C295.8 268 299 268.6 300 268.7"/>
<path class="k" d="M228 278.5C228.2 278.7 228.2 279.6 229 279.8C229.8 280.1 232.3 279.6 232.5 280C232.7 280.4 230.5 281.3 230 282.5C229.5 283.7 229.4 285.8 229.5 287C229.6 288.2 230 289.1 230.5 290C231 290.9 231.4 291.5 232.5 292.5C233.6 293.5 236.2 295.4 237 296"/>
<path class="l" d="M236.5 275C236.6 274.3 237.4 273 238 272.5C238.6 272 239.5 271.8 240 272C240.5 272.2 241.1 272.8 241 273.5C240.9 274.2 240.1 275.9 239.5 276.5C238.9 277.1 238 277.1 237.5 276.8C237 276.6 236.4 275.7 236.5 275Z"/>
<path class="g" d="M245 274.2C245.2 273.9 246.4 273.5 247.2 273.4C248 273.3 249.2 273.5 249.8 273.8C250.4 274.1 250.8 274.7 250.6 275C250.4 275.3 249.3 275.7 248.5 275.8C247.7 275.9 246.4 275.7 245.8 275.4C245.2 275.1 244.8 274.5 245 274.2Z"/>
<path class="l" d="M234.2 279L234.2 288"/>
<path class="s2" d="M256.5 278.2L266.5 264.8"/>
<path class="l" d="M258 276.5L267.2 265.8"/>
<path class="l" d="M256 278.5C257.2 278.6 260.7 279 263 279C265.3 279 267.7 278.9 270 278.5C272.3 278.1 275.2 277.2 277 276.5C278.8 275.8 280.1 274.9 281 274C281.9 273.1 282.2 271.5 282.5 271"/>
<path class="l" d="M267.5 282L267.5 289"/>
<path class="l" d="M247.5 297.7C250.7 296.2 263.2 290.5 266.5 289C269.8 287.5 267.3 288.6 267.5 288.5"/>
<path class="l" d="M249.5 299.3L268.3 290"/>
<path class="l" d="M247.5 297.7L249.5 299.3"/>
<ellipse class="l" cx="272" cy="271.5" rx="1" ry="0.7"/>
<ellipse class="l" cx="277.2" cy="270" rx="0.8" ry="0.6"/>
<path class="l" d="M281 269.5C281.2 270.2 281.8 273.1 282.5 273.5C283.2 273.9 283.9 272.4 285 272C286.1 271.6 287.3 271.1 289 271C290.7 270.9 294 271.4 295 271.5"/>
<path class="k" d="M300 268.5C301.7 268.9 306.7 269.8 310 270.8C313.3 271.8 317 273.2 320 274.5C323 275.8 325.3 277 328 278.5C330.7 280 333.2 281.7 336 283.5C338.8 285.3 341.5 287.1 345 289.5C348.5 291.9 354.9 296.3 357 298C359.1 299.7 357.9 299.2 357.5 299.8C357.1 300.4 355.1 300.8 354.5 301.5C353.9 302.2 353.6 303.1 354 304C354.4 304.9 355.7 306 357 307C358.3 308 361.2 309.5 362 310"/>
<path class="k" d="M292 269.8C294.2 270.3 300.3 271.6 305 273C309.7 274.4 314.2 275.8 320 278.5C325.8 281.2 335 286.2 340 289C345 291.8 348.3 294.4 350 295.5"/>
<path class="l" d="M292 272.5C293.3 272.9 295.7 273.5 300 275C304.3 276.5 313 279.5 318 281.5C323 283.5 326.3 285.2 330 287C333.7 288.8 337.2 290.3 340 292C342.8 293.7 345.8 296.2 347 297"/>
<path class="l" d="M298 276C300.8 277.2 309.7 280.6 315 283C320.3 285.4 326.2 288.3 330 290.3C333.8 292.3 336.7 294.2 338 295"/>
<ellipse class="x" cx="305.5" cy="271" rx="0.9" ry="0.6"/>
<ellipse class="x" cx="318" cy="281.5" rx="0.9" ry="0.6"/>
<ellipse class="x" cx="286" cy="273" rx="0.8" ry="0.6"/>
<ellipse class="x" cx="289" cy="271" rx="0.8" ry="0.6"/>
<path class="k" d="M274.2 283.9C275.8 283 281.8 279.6 284 278.5C286.2 277.4 286.5 277.4 287.5 277.2C288.5 277 287.1 276.3 290 277.4C292.9 278.5 300 281.8 305 284C310 286.2 316.2 288.9 320 290.7C323.8 292.5 325.9 293.4 328 295C330.1 296.6 331.5 298.2 332.3 300C333.1 301.8 333.1 303.6 333 306C332.9 308.4 331.8 312.8 331.5 314.2"/>
<path class="k" d="M274.2 283.9L300 298.3L331.5 314.2"/>
<path class="k" d="M231.1 290.2C232.9 291.7 238.1 296.1 242 299C245.9 301.9 249.9 304.6 254.8 307.8C259.8 311 265.8 314.3 271.7 318C277.6 321.7 284.2 326.2 290 330C295.8 333.8 301.4 337.3 306.7 340.8C312 344.3 317.3 347.9 321.7 350.8C326.1 353.7 331.4 357.1 333.3 358.3"/>
<path class="c" d="M236.5 289.8L246.7 297L260 305.3L275 314.7L292 326L308 336.5L322 346"/>
<path class="c" d="M255.3 280.3L321.5 318.5"/>
<path class="c" d="M329 322.5L350 333L361.5 339"/>
<ellipse class="l" cx="345.5" cy="300.5" rx="3.6" ry="2.4" transform="rotate(-25 345.5 300.5)"/>
<ellipse class="l" cx="347" cy="299" rx="0.7" ry="0.5"/>
<ellipse class="l" cx="344.5" cy="301.5" rx="0.7" ry="0.5"/>
<path class="l" d="M339 300C339.2 300.7 339 302.8 340 304C341 305.2 343.3 306.8 345 307C346.7 307.2 348.5 305.5 350 305C351.5 304.5 353.3 304.2 354 304"/>
<path class="l" d="M332.5 300C333.1 300.8 335.2 303.2 336 305C336.8 306.8 337.8 309.4 337 311C336.2 312.6 332.4 313.9 331.5 314.5"/>
<path class="k" d="M357 307C357.8 307.5 360.3 309.1 361.5 310C362.7 310.9 363.6 312.2 364 312.6"/>
<path class="k" d="M364 312.6L367.1 309.4"/>
<path class="k" d="M367.1 309.4C367.6 310.6 369.4 314.2 370.3 316.4C371.2 318.6 372.2 320.8 372.8 322.6C373.4 324.4 373.6 325.3 374 327C374.4 328.7 374.3 330.8 375 333C375.7 335.2 376.9 338.8 378 340.5C379.1 342.2 379.4 341.9 381.5 343C383.6 344.1 388.1 345.9 390.4 347.2C392.7 348.4 394.2 349.6 395.5 350.5C396.8 351.4 397.9 352 398.3 352.8C398.7 353.6 398.4 354.8 398 355.5C397.6 356.2 398.8 355.6 396.2 357C393.6 358.4 385.6 362.1 382.5 363.7C379.4 365.3 379.2 366.4 377.5 366.4C375.8 366.3 374.6 364.1 372.5 363.4C370.4 362.7 369.6 362.5 365 362C360.4 361.5 350.4 361.2 345 360.5C339.6 359.8 336.4 359.1 332.5 357.5C328.6 355.9 323.5 351.9 321.7 350.8"/>
<path class="l" d="M367.1 309.4L364 315L361.5 320L354 328.3L350.2 333.3"/>
<path class="l" d="M365 318L356 328.5L352 334.5"/>
<path class="l" d="M368.4 325.2C367.8 326 365.8 328.1 364.6 330.2C363.5 332.3 362 336.4 361.5 337.7"/>
<path class="l" d="M370 326C369.3 326.9 367.1 329.4 366 331.5C364.9 333.6 363.8 337.3 363.3 338.5"/>
<path class="l" d="M362.7 343.4C363.6 344 366.1 346.7 367.8 347.2C369.5 347.7 371.1 347.4 372.8 346.5C374.5 345.6 377 342.3 377.8 341.5"/>
<path class="l" d="M332.5 353.7C334.6 354 339.6 355.2 345 355.5C350.4 355.8 360 355.9 365 355.7C370 355.5 371.2 355 375 354.5C378.8 354 384.2 353.1 387.5 352.5C390.8 351.9 393.8 351.4 395 351.2"/>
<path class="k" d="M370 329L373 327.3L376.2 329L376 332L373 333.6L370 332Z"/>
<path class="l" d="M370 329L373 330.6L376.2 329"/>
<path class="l" d="M373 330.6L373 333.6"/>
<path class="k" d="M331 343.5L334 341.8L337 343.5L337 346.3L334 348L331 346.3Z"/>
<path class="l" d="M331 343.5L334 345.1L337 343.5"/>
<path class="l" d="M334 345.1L334 348"/>
<path class="l" d="M359 311C359.6 310.2 361.2 309.8 362 310C362.8 310.2 363.8 311.5 364 312.5C364.2 313.5 364.1 315.2 363.5 316C362.9 316.8 361.3 317.2 360.5 317C359.7 316.8 358.8 315.5 358.5 314.5C358.2 313.5 358.4 311.8 359 311Z"/>
<ellipse class="l" cx="371" cy="340" rx="1.3" ry="1"/>
<ellipse class="l" cx="335.3" cy="353.5" rx="2.6" ry="1.7" transform="rotate(-20 335.3 353.5)"/>
<path class="l" d="M232.7 288.5L235.5 288L237 290.3L234 291Z"/>
<path class="l" d="M242.5 296.8L246 296.4L247.5 298.7L244 299.3Z"/>
<path class="l" d="M256 304.5L259.5 304L261.5 306.5L258 307.3Z"/>
<path class="l" d="M270 312.5L274 312L275.8 314.8L272 315.6Z"/>
<path class="l" d="M288.5 325L292.5 324.4L294.5 327.5L290.5 328.3Z"/>
<path class="l" d="M306.5 337L310.5 336.5L312.5 339.5L308.5 340.3Z"/>
<path class="l" d="M365.3 356.4L369 356.4L369 359.8L365.3 359.8Z"/>
<path class="k" d="M306.3 334L324.5 319"/>
<path class="l" d="M308.8 336L327.6 320.8"/>
<path class="l" d="M324.5 319C324.9 318.9 326.3 318.3 326.8 318.6C327.3 318.9 327.5 320.4 327.6 320.8"/>
<path class="l" d="M306.3 334C306.4 334.3 306.2 335.5 306.6 335.8C307 336.1 308.4 336 308.8 336"/>
<!-- 40_plate.svg -->
<path class="k" d="M336.5 274.5L362 259L363.5 258.7"/>
<path class="k" d="M336.5 274.5C336.6 274.7 336.6 275.3 336.8 275.7C337.1 276.1 337 276.3 338 276.6C339 276.9 342.2 277.2 343 277.3"/>
<path class="k" d="M363.5 258.7L366 259.6L368.5 257"/>
<path class="k" d="M368.5 257L438.3 287.7"/>
<path class="k" d="M438.3 287.7L405.5 310.6"/>
<path class="k" d="M343 277.3L400 306.7L405.5 310.6"/>
<path class="l" d="M343 277L367 263"/>
<path class="l" d="M344 277.4L367.3 263.8"/>
<path class="x" d="M366 259.6L368.5 257L367.6 263.4Z"/>
<path class="k" d="M367.6 263.4L423 288.6"/>
<path class="l" d="M425.9 287.7L432.3 290.2"/>
<path class="k" d="M423 288.6L400 305.1"/>
<path class="l" d="M424 289.5L401 306"/>
<path class="l" d="M432.3 290.2L407.7 308"/>
<path class="l" d="M345 277.6C347.5 278.2 355.8 279.9 360 281C364.2 282.1 367.3 283.3 370 284.5C372.7 285.7 374.1 286.9 376 288.2C377.9 289.5 379 290.3 381.7 292.2C384.4 294.1 388.9 297.2 392 299.5C395.1 301.8 398.7 304.9 400 306"/>
<ellipse class="l" cx="339.5" cy="275" rx="0.9" ry="0.7"/>
<ellipse class="l" cx="433" cy="290.5" rx="0.8" ry="0.6"/>
<ellipse class="l" cx="404.8" cy="309" rx="0.8" ry="0.6"/>
<path class="s2" d="M404.7 309.5L404.7 315"/>
<ellipse class="x" cx="404.7" cy="316.3" rx="2.4" ry="1.3"/>
<ellipse class="x" cx="404.7" cy="320.6" rx="2.4" ry="1.3"/>
<path class="s" d="M404.7 322.5L404.7 331"/>
<path class="l" d="M403.6 322.5L403.6 331"/>
<path class="l" d="M405.8 322.5L405.8 331"/>
<ellipse class="g" cx="404.7" cy="332.3" rx="2.2" ry="2"/>
<path class="s2" d="M433 290.5L433 299.5"/>
<ellipse class="x" cx="433" cy="300.6" rx="2.2" ry="1.2"/>
<ellipse class="x" cx="433" cy="304.6" rx="2.2" ry="1.2"/>
<path class="s" d="M433 306.5L433 314.5"/>
<ellipse class="g" cx="433" cy="315.8" rx="1.8" ry="1.6"/>
<!-- 50_brackets.svg -->
<path class="k" d="M361.4 210.7C361.2 209.2 367.3 207.8 370.1 206.4C372.9 204.9 375.7 203.4 378.3 202C380.8 200.6 383.8 198.8 385.5 198.1C387.1 197.5 386.2 197.1 388.1 197.9C390 198.7 393.9 201.4 396.9 203.1C399.8 204.9 404.3 207.3 405.9 208.5C407.6 209.7 407.1 209.8 406.9 210.3C406.6 210.9 406.5 210.9 404.4 211.9C402.4 212.8 397.9 214.6 394.5 215.9C391.1 217.3 386.3 219.4 384.1 220.1C381.8 220.8 383.3 220.8 381.2 220C379 219.2 374.6 216.9 371.3 215.3C368 213.8 361.6 212.2 361.4 210.7Z"/>
<path class="l" d="M364.5 210.8L386.2 199.9L388.7 199.9L403.8 208.7"/>
<path class="l" d="M364.5 211.3L381.7 218.7L384.1 218.7L404.1 210.6L403.8 208.7"/>
<path class="s2" d="M387.6 200.6L382.9 218.3"/>
<path class="l" d="M386.6 200.3L382 218.3"/>
<path class="l" d="M388.5 200.8L383.8 218.5"/>
<path class="l" d="M365.5 210.2L403.8 208"/>
<path class="l" d="M366 211.7L404.4 209.5"/>
<path class="l" d="M389.9 212.4L393.4 211.3L395.1 213.6"/>
<path class="s2" d="M363.4 206.6L363.4 217.7"/>
<path class="s" d="M363.4 218L363.4 223.5"/>
<ellipse class="g" cx="363.4" cy="224.7" rx="1.7" ry="1.6"/>
<ellipse class="x" cx="392.4" cy="222" rx="2.2" ry="1.3"/>
<path class="s" d="M392.4 225L392.4 235.7"/>
<path class="l" d="M391.4 225L391.4 235.7"/>
<path class="l" d="M393.5 225L393.5 235.7"/>
<ellipse class="g" cx="392.4" cy="237.4" rx="2.1" ry="2"/>
<path class="l" d="M366 226.4L375.9 239.8"/>
<path class="l" d="M395.1 229.9L405 239.8"/>
<path class="l" d="M394.2 221.7L422.5 239.2"/>
<path class="l" d="M397.5 213.3L439.7 238"/>
<path class="l" d="M334.2 259.2L345.8 267.5"/>
<path class="k" d="M489 272.6C490.4 271 495.5 267.5 498.6 265.3C501.8 263.1 505.8 260.5 507.9 259.3C510.1 258.1 510.1 258.1 511.3 258C512.5 257.8 512.9 257.6 515.3 258.4C517.6 259.2 521.8 261.3 525.2 262.9C528.7 264.5 533.5 266.9 535.9 268C538.3 269 538.9 268.9 539.6 269.3C540.3 269.7 540.4 270.3 540.2 270.6C539.9 271 538.8 271.6 537.9 271.6C537 271.5 536.7 269.4 534.8 270.2C532.9 271.1 529.2 274.6 526.6 276.6C523.9 278.7 520.3 281.2 518.9 282.6C517.4 284 518.6 284.7 517.9 285.3C517.3 285.8 515.9 286.1 514.9 286.1C513.9 286.1 514.2 286.2 511.9 285.3C509.7 284.3 504.8 282 501.3 280.3C497.7 278.7 492.7 276.6 490.6 275.3C488.6 274 487.7 274.3 489 272.6Z"/>
<path class="l" d="M492 272.9C493.3 272 497.2 269.5 500 267.6C502.7 265.6 506.6 262.6 508.6 261.3C510.6 260.1 510.8 260.2 511.9 260.1C513 260 511.7 259.2 515.3 260.6C518.8 262.1 530.2 267.3 533.2 268.6"/>
<path class="l" d="M492 272.9L492.6 274.6L512.6 283.9L515.3 283.9L533.9 270"/>
<path class="l" d="M493.3 272.9C494 272 497.7 270.1 500 268.9C502.2 267.7 505 267 506.6 266C508.3 264.9 508.9 263.4 509.9 262.6C510.9 261.9 511.9 261.2 512.6 261.3C513.3 261.4 514.1 262.3 514.1 263.3C514.1 264.3 513.5 266.2 512.6 267.3C511.7 268.4 510.3 269.3 508.6 270C506.9 270.7 504.7 270.9 502.6 271.6C500.5 272.2 497.5 273.7 496 274C494.4 274.2 492.6 273.7 493.3 272.9Z"/>
<path class="s2" d="M514.5 261.7L513.7 282.6"/>
<path class="l" d="M513.5 261.7L512.7 282.6"/>
<path class="l" d="M515.4 261.7L514.6 282.6"/>
<path class="l" d="M506.6 274.2L533.2 268.4"/>
<path class="l" d="M507.3 275.6L533.9 269.7"/>
<path class="s2" d="M502.9 260.6L502.9 265.3"/>
<ellipse class="l" cx="538.6" cy="270.2" rx="0.8" ry="0.7"/>
<ellipse class="x" cx="502.9" cy="285.7" rx="2.1" ry="1.2"/>
<path class="s" d="M502.9 288.3L502.9 298.6"/>
<path class="l" d="M501.8 288.3L501.8 298.6"/>
<path class="l" d="M504 288.3L504 298.6"/>
<ellipse class="g" cx="502.9" cy="300.3" rx="2.1" ry="2"/>
<ellipse class="l" cx="517" cy="284.9" rx="1.3" ry="0.9"/>
<path class="s2" d="M516.2 286.2L516.2 291.3"/>
<path class="s" d="M516.2 291.3L516.2 295.9"/>
<ellipse class="g" cx="516.2" cy="297.2" rx="1.7" ry="1.6"/>
<path class="l" d="M474.1 301.6L500 287.3"/>
<path class="l" d="M493.3 301.2L500 297.2"/>
<path class="l" d="M518.6 292.6L533.2 301.2"/>
<path class="l" d="M522.6 279.3L550 299.9"/>
<!-- 55_bolts14.svg -->
<path class="s2" d="M267 317.5L267 321"/>
<path class="s" d="M267 321L267 324.5"/>
<ellipse class="g" cx="267" cy="325.7" rx="1.7" ry="1.4"/>
<path class="s2" d="M333 348L333 362"/>
<path class="s" d="M333 362L333 365.5"/>
<ellipse class="g" cx="333" cy="366.5" rx="1.7" ry="1.4"/>
<path class="s2" d="M372 366.5L372 371"/>
<path class="s" d="M372 371L372 374.5"/>
<ellipse class="g" cx="372" cy="375.5" rx="1.7" ry="1.4"/>
<!-- 90_labels.svg -->
<g class="l">
<path d="M242.5 318.7 L258.2 312"/>
<path d="M245 339.2 L266.2 325.7"/>
<path d="M301.2 377.5 L334.2 345.5"/>
<path d="M317 377.5 L332.5 366.2"/>
<path d="M407 331.2 L417.5 338.7"/>
<path d="M406.2 322 L435.5 338.2"/>
<path d="M407 317 L453.7 338.2"/>
<path d="M434.5 315.7 L472.5 338.2"/>
<path d="M434.5 305 L491.2 338.2"/>
<path d="M435 300 L509.5 338.2"/>
<path d="M376.5 330 L394.5 338.5"/>
<path d="M375 376 L388.7 379.7"/>
</g>
<g class="t" transform="rotate(0.03 400 300)">
<text x="236.7" y="323.7">1</text>
<text x="237" y="346">14</text>
<text x="298" y="386.7">13</text>
<text x="316.2" y="386.7">14</text>
<text x="332.5" y="257">2</text>
<text x="377.2" y="250">10</text>
<text x="406" y="250">11</text>
<text x="424.7" y="250">12</text>
<text x="441.2" y="250">3</text>
<text x="473.5" y="312">12</text>
<text x="491.5" y="312">11</text>
<text x="535.2" y="312">10</text>
<text x="551.2" y="312">3</text>
<text x="399.7" y="349.2">13</text>
<text x="417.5" y="349.2">4</text>
<text x="436.2" y="349.2">5</text>
<text x="454.5" y="349.2">6</text>
<text x="473" y="349.2">7</text>
<text x="491.5" y="349.2">8</text>
<text x="510" y="349.2">9</text>
<text x="395" y="386.2">14</text>
</g>
</svg>
</body>
</html>
